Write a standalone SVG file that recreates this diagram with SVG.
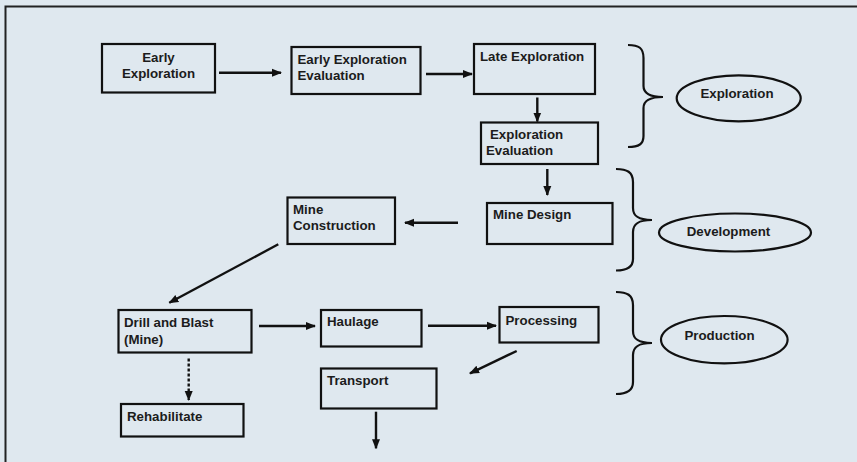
<svg xmlns="http://www.w3.org/2000/svg" width="857" height="462" viewBox="0 0 857 462">
  <style>
    .box { fill: none; stroke: #111; stroke-width: 2.2; }
    .lbl { font-family: "Liberation Sans", Arial, sans-serif; font-size: 13.3px; font-weight: bold; fill: #1c1c1c; }
    .mid { text-anchor: middle; }
    .arr { fill: none; stroke: #111; stroke-width: 2.4; marker-end: url(#head); }
    .dot { fill: none; stroke: #111; stroke-width: 2.4; stroke-dasharray: 3 2; marker-end: url(#head); }
    .brace { fill: none; stroke: #111; stroke-width: 2.2; }
    .oval { fill: none; stroke: #111; stroke-width: 2.2; }
  </style>
  <defs>
    <marker id="head" markerUnits="userSpaceOnUse" markerWidth="10" markerHeight="10" viewBox="0 0 10 10" refX="9" refY="5" orient="auto">
      <path d="M0,1 L10,5 L0,9 Z" fill="#111"/>
    </marker>
  </defs>

  <!-- page background and frame -->
  <rect x="0" y="0" width="857" height="462" fill="#dfe8ef"/>
  <path d="M5.5,462 V6.5 H857" fill="none" stroke="#222" stroke-width="2"/>

  <!-- exploration stage -->
  <g id="early-exploration">
    <rect class="box" x="102" y="44" width="113" height="48.5"/>
    <text class="lbl mid" x="158.5" y="61.5">Early</text>
    <text class="lbl mid" x="158.5" y="77.5">Exploration</text>
  </g>
  <g id="early-exploration-evaluation">
    <rect class="box" x="291.5" y="47" width="129" height="47"/>
    <text class="lbl" x="297.5" y="63.5">Early Exploration</text>
    <text class="lbl" x="297.5" y="79.5">Evaluation</text>
  </g>
  <g id="late-exploration">
    <rect class="box" x="474" y="44" width="121" height="50"/>
    <text class="lbl" x="480" y="61">Late Exploration</text>
  </g>
  <g id="exploration-evaluation">
    <rect class="box" x="481" y="122.5" width="117" height="41.5"/>
    <text class="lbl" x="490" y="138.5">Exploration</text>
    <text class="lbl" x="486" y="155">Evaluation</text>
  </g>

  <!-- development stage -->
  <g id="mine-design">
    <rect class="box" x="487" y="203" width="125.5" height="41"/>
    <text class="lbl" x="493" y="219">Mine Design</text>
  </g>
  <g id="mine-construction">
    <rect class="box" x="287.5" y="197.5" width="107.5" height="46.5"/>
    <text class="lbl" x="293" y="213.5">Mine</text>
    <text class="lbl" x="293" y="229.5">Construction</text>
  </g>

  <!-- production stage -->
  <g id="drill-and-blast">
    <rect class="box" x="118.5" y="310" width="133" height="42.5"/>
    <text class="lbl" x="124" y="327">Drill and Blast</text>
    <text class="lbl" x="124" y="343.5">(Mine)</text>
  </g>
  <g id="haulage">
    <rect class="box" x="321" y="310" width="100.5" height="36.5"/>
    <text class="lbl" x="327" y="326">Haulage</text>
  </g>
  <g id="processing">
    <rect class="box" x="499.5" y="307" width="99" height="35.5"/>
    <text class="lbl" x="505.5" y="324.5">Processing</text>
  </g>
  <g id="transport">
    <rect class="box" x="321" y="368.5" width="115.5" height="40"/>
    <text class="lbl" x="327" y="384.5">Transport</text>
  </g>
  <g id="rehabilitate">
    <rect class="box" x="121" y="404" width="122.5" height="32.5"/>
    <text class="lbl" x="127" y="420.5">Rehabilitate</text>
  </g>

  <!-- stage labels with braces -->
  <g id="exploration-stage">
    <path class="brace" d="M628,45 C639,45 643.5,48 643.5,58 L643.5,86 C643.5,93 649,97 663,97 C649,97 643.5,101 643.5,108 L643.5,136 C643.5,144 639,147 628,147"/>
    <ellipse class="oval" cx="738.7" cy="98.3" rx="62" ry="23"/>
    <text class="lbl mid" x="737" y="98">Exploration</text>
  </g>
  <g id="development-stage">
    <path class="brace" d="M616,169 C627,169 633,172 633,182 L633,208 C633,216 638,220 652,220 C638,220 633,224 633,232 L633,259 C633,267 627,270.5 616,270.5"/>
    <ellipse class="oval" cx="735" cy="232.5" rx="76" ry="19"/>
    <text class="lbl mid" x="728.5" y="235.5">Development</text>
  </g>
  <g id="production-stage">
    <path class="brace" d="M616,292 C627,292 633,295 633,305 L633,331 C633,339 638,343 652,343 C638,343 633,347 633,355 L633,382 C633,390 627,394 616,394"/>
    <ellipse class="oval" cx="724.3" cy="339.7" rx="63.3" ry="23.7"/>
    <text class="lbl mid" x="719.5" y="340">Production</text>
  </g>

  <!-- connectors -->
  <g id="connectors">
    <line class="arr" x1="219" y1="72.7" x2="281" y2="72.7"/>
    <line class="arr" x1="426" y1="74" x2="472" y2="74"/>
    <line class="arr" x1="537.3" y1="97.5" x2="537.3" y2="121.5"/>
    <line class="arr" x1="547.3" y1="169" x2="547.3" y2="195"/>
    <line class="arr" x1="458" y1="222.7" x2="405" y2="222.7"/>
    <line class="arr" x1="278.3" y1="244.3" x2="169.3" y2="302.7"/>
    <line class="arr" x1="259" y1="326" x2="315" y2="326"/>
    <line class="arr" x1="428" y1="325.7" x2="496" y2="325.7"/>
    <line class="arr" x1="516.7" y1="351" x2="470" y2="373.3"/>
    <line class="dot" x1="188.7" y1="358.5" x2="188.7" y2="400"/>
    <line class="arr" x1="376" y1="411.7" x2="376" y2="448.3"/>
  </g>
</svg>
